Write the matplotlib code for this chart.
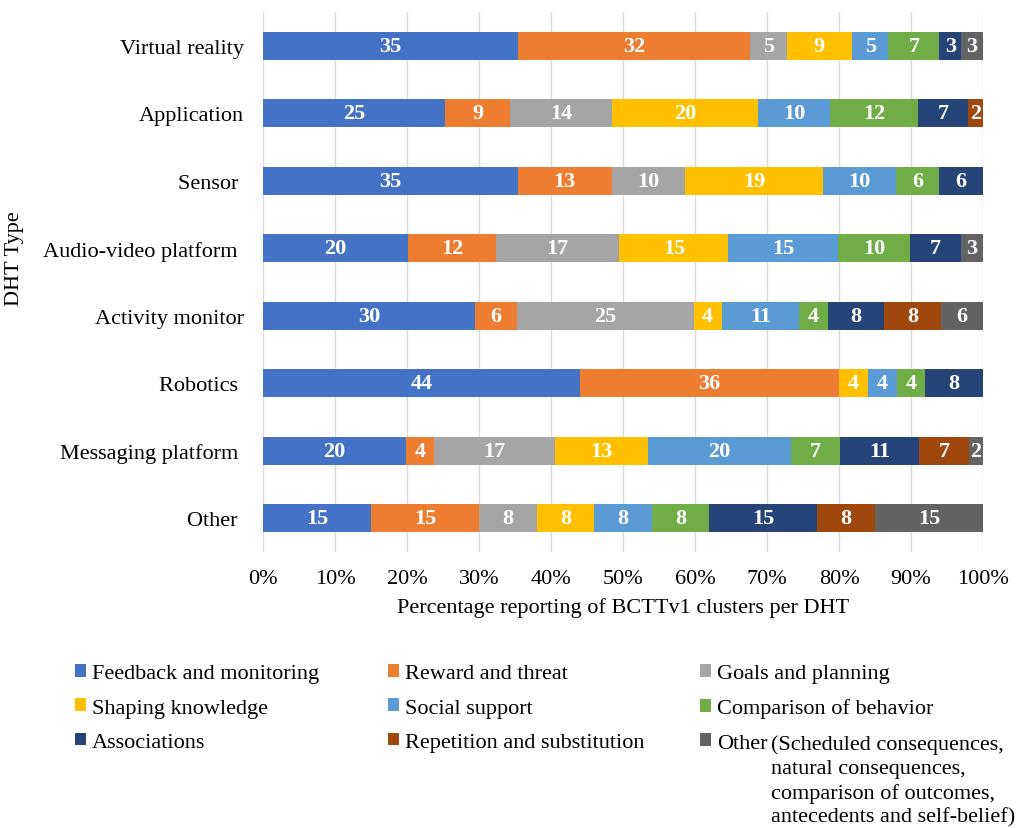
import numpy as np
import matplotlib
matplotlib.use("Agg")
import matplotlib.pyplot as plt

plt.rcParams['font.family'] = ['Liberation Serif', 'DejaVu Serif']

# DHT types, top to bottom (trailing spaces as in the source chart)
dht_types = ['Virtual reality', 'Application', 'Sensor ', 'Audio-video platform ',
             'Activity monitor', 'Robotics ', 'Messaging platform ', 'Other ']

clusters = ['Feedback and monitoring', 'Reward and threat', 'Goals and planning',
            'Shaping knowledge', 'Social support', 'Comparison of behavior',
            'Associations', 'Repetition and substitution', 'Other']

# reported counts per cluster, one row per DHT type (0 = not reported)
feedback    = [35, 25, 35, 20, 30, 44, 20, 15]
reward      = [32,  9, 13, 12,  6, 36,  4, 15]
goals       = [ 5, 14, 10, 17, 25,  0, 17,  8]
shaping     = [ 9, 20, 19, 15,  4,  4, 13,  8]
social      = [ 5, 10, 10, 15, 11,  4, 20,  8]
comparison  = [ 7, 12,  6, 10,  4,  4,  7,  8]
associations = [3,  7,  6,  7,  8,  8, 11, 15]
repetition  = [ 0,  2,  0,  0,  8,  0,  7,  8]
other       = [ 3,  0,  0,  3,  6,  0,  2, 15]

colors = ['#4472C4', '#ED7D31', '#A5A5A5', '#FFC000', '#5B9BD5',
          '#70AD47', '#264478', '#9E480E', '#636363']

vals = np.array([feedback, reward, goals, shaping, social, comparison,
                 associations, repetition, other], dtype=float)
pct = vals / vals.sum(axis=0) * 100  # 100% stacked

fig = plt.figure(figsize=(10.18, 8.29), dpi=100)
ax = fig.add_axes([263/1018, 1 - 553/829, 720/1018, 540/829])

y = np.arange(len(dht_types))
left = np.zeros(len(dht_types))
handles = []
for k in range(len(clusters)):
    bars = ax.barh(y, pct[k], left=left, height=0.42, color=colors[k],
                   label=clusters[k], zorder=3)
    handles.append(bars)
    for i in range(len(dht_types)):
        if vals[k, i] > 0:
            ax.text(left[i] + pct[k, i] / 2, y[i], '%d' % vals[k, i],
                    ha='center', va='center', color='white',
                    fontsize=16, fontweight='bold', zorder=4)
    left += pct[k]

ax.set_ylim(len(dht_types) - 0.5, -0.5)
ax.set_xlim(0, 100)
ax.set_yticks(y)
ax.set_yticklabels(dht_types, fontsize=16)
ax.set_xticks(np.arange(0, 101, 10))
ax.set_xticklabels(['%d%%' % v for v in range(0, 101, 10)], fontsize=16)
ax.tick_params(length=0)
ax.tick_params(axis='y', pad=14)
ax.tick_params(axis='x', pad=12)
ax.grid(axis='x', color='#D9D9D9', lw=1, zorder=0)
for s in ax.spines.values():
    s.set_visible(False)

ax.set_xlabel('Percentage reporting of BCTTv1 clusters per DHT', fontsize=16, labelpad=7)
fig.text(15/1018, 1 - 259/829, 'DHT Type', rotation=90, fontsize=16,
         ha='center', va='center')

# legend, three columns laid out like the source
col_x = [75, 388, 700]
last = None
for c in range(3):
    hs = handles[c::3]
    labs = clusters[c::3]
    leg = fig.legend(hs, labs, loc='upper left',
                     bbox_to_anchor=(col_x[c]/1018, 1 - 665/829),
                     frameon=False, fontsize=16, handlelength=0.5,
                     handleheight=0.5, handletextpad=0.25, labelspacing=0.68,
                     borderaxespad=0, borderpad=0)
    last = leg.get_texts()[-1]

fig.canvas.draw()
bb = last.get_window_extent()
fig.text((bb.x1 + 4) / 1018, (bb.y1 - 1) / 829,
         '(Scheduled consequences,\nnatural consequences,\ncomparison of outcomes,\nantecedents and self-belief)',
         fontsize=16, ha='left', va='top', linespacing=1.33)

fig.savefig('out.png', dpi=100)
